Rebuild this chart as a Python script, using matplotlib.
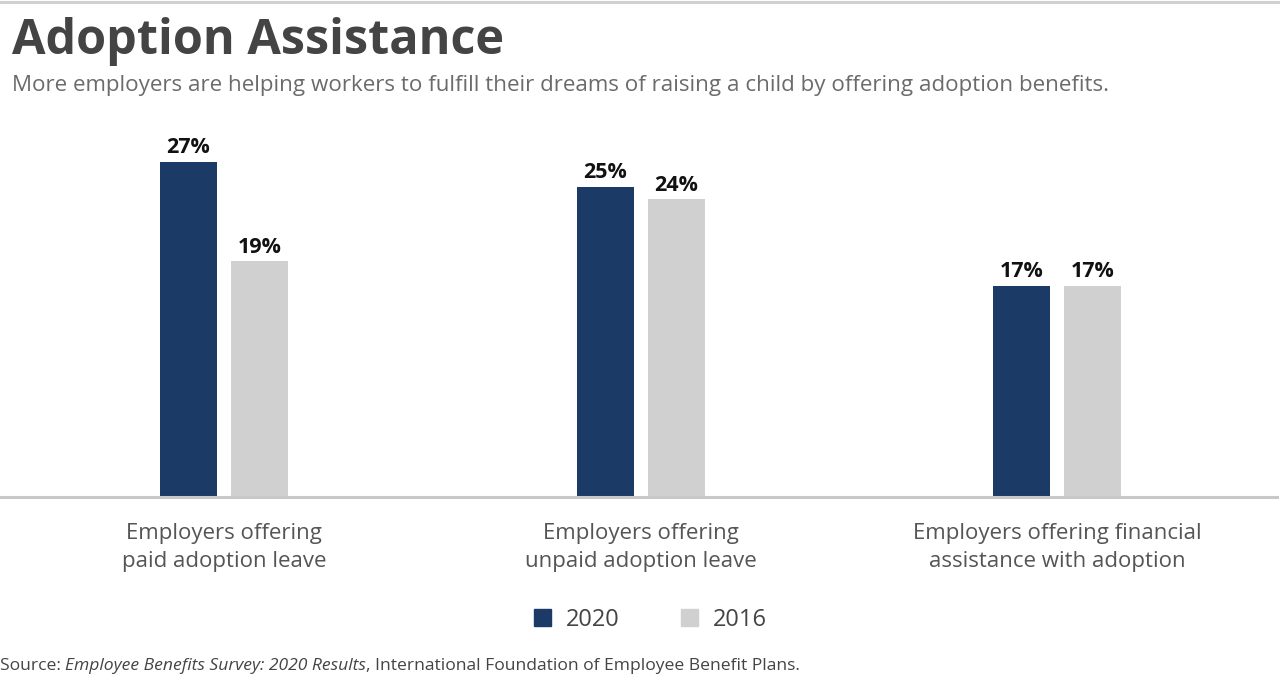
import matplotlib
matplotlib.use("Agg")
import matplotlib.pyplot as plt
from matplotlib.patches import Patch
import numpy as np

categories = ["Employers offering\npaid adoption leave",
              "Employers offering\nunpaid adoption leave",
              "Employers offering financial\nassistance with adoption"]
values_2020 = [27, 25, 17]
values_2016 = [19, 24, 17]
series_names = ["2020", "2016"]

navy = "#1c3a66"
light = "#d0d0d0"

plt.rcParams["font.family"] = ["Open Sans", "DejaVu Sans"]

W, H = 1280, 679
fig = plt.figure(figsize=(W / 100, H / 100), dpi=100)

# top rule
fig.add_artist(plt.Line2D([0, 1], [1 - 2 / H, 1 - 2 / H], color="#d0d0d0", lw=2.2))

fig.text(12 / W, 1 - 42 / H, "Adoption Assistance", fontsize=35, fontweight="bold",
         color="#444444", va="center", ha="left")
fig.text(12 / W, 1 - 86 / H,
         "More employers are helping workers to fulfill their dreams of raising a child by offering adoption benefits.",
         fontsize=16.1, color="#6b6b6b", va="center", ha="left")

base_y = 497
top_y = 120
ax = fig.add_axes([0, 1 - base_y / H, 1277 / W, (base_y - top_y) / H])
px_per_unit = 12.4
ax.set_ylim(0, (base_y - top_y) / px_per_unit)

x = np.arange(len(categories))
unit = (1057 - 224) / 2.0
ax.set_xlim(-224 / unit, (1277 - 224) / unit)
w = 57 / unit
off = 35.5 / unit

b1 = ax.bar(x - off, values_2020, w, color=navy)
b2 = ax.bar(x + off, values_2016, w, color=light)
for bars in (b1, b2):
    for r in bars:
        ax.text(r.get_x() + r.get_width() / 2, r.get_height() + 0.3, f"{r.get_height():.0f}%",
                ha="center", va="bottom", fontsize=15.5, fontweight="bold", color="#111111")

for s in ["top", "left", "right"]:
    ax.spines[s].set_visible(False)
ax.spines["bottom"].set_color("#c8c8c8")
ax.spines["bottom"].set_linewidth(2.2)
ax.set_yticks([])
ax.set_xticks(x)
ax.set_xticklabels(categories, fontsize=16, color="#555555", linespacing=1.4)
ax.tick_params(axis="x", length=0, pad=19)

handles = [Patch(color=navy, label=series_names[0]), Patch(color=light, label=series_names[1])]
fig.legend(handles=handles, loc="center", bbox_to_anchor=(650 / W, 1 - 620 / H), ncol=2,
           frameon=False, fontsize=17, handlelength=0.75, handleheight=0.75,
           handletextpad=0.6, columnspacing=2.6, labelcolor="#444444")

# source line with italic title
renderer = fig.canvas.get_renderer()
pieces = [("Source: ", "normal"), ("Employee Benefits Survey: 2020 Results", "italic"),
          (", International Foundation of Employee Benefit Plans.", "normal")]
xpos = 0
for txt, style in pieces:
    t = fig.text(xpos, 1 - 666 / H, txt, fontsize=12.6, style=style, color="#444444",
                 va="center", ha="left")
    bb = t.get_window_extent(renderer)
    xpos = bb.x1 / W

fig.savefig("out.png", dpi=100)
